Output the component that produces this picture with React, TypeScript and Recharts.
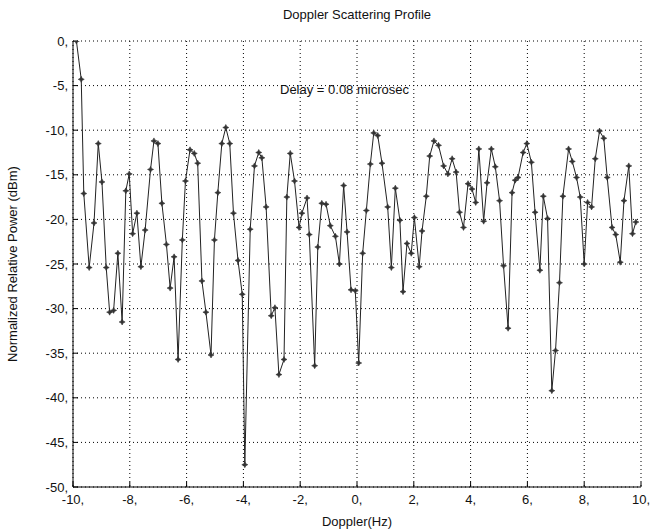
import { LineChart, Line, XAxis, YAxis, CartesianGrid } from "recharts"

// Doppler frequency (Hz) of each sample
const dopplerHz = [
  -9.88, -9.71, -9.62, -9.43, -9.26, -9.11, -8.98, -8.83, -8.71, -8.57,
  -8.42, -8.27, -8.14, -8.02, -7.9, -7.75, -7.61, -7.46, -7.27, -7.15,
  -7.01, -6.87, -6.71, -6.58, -6.44, -6.3, -6.15, -6.04, -5.88, -5.73,
  -5.61, -5.46, -5.32, -5.14, -5.02, -4.9, -4.76, -4.62, -4.48, -4.35,
  -4.19, -4.04, -3.95, -3.76, -3.61, -3.46, -3.35, -3.2, -3.02, -2.89,
  -2.75, -2.57, -2.47, -2.35, -2.2, -2.04, -1.94, -1.76, -1.68, -1.49,
  -1.38, -1.24, -1.09, -0.94, -0.76, -0.62, -0.47, -0.35, -0.21, -0.06,
  0.06, 0.2, 0.33, 0.47, 0.59, 0.73, 0.88, 1.08, 1.21, 1.35,
  1.51, 1.62, 1.76, 1.91, 2.02, 2.19, 2.29, 2.44, 2.56, 2.71,
  2.87, 3.05, 3.2, 3.35, 3.49, 3.61, 3.75, 3.91, 4.05, 4.18,
  4.29, 4.46, 4.58, 4.73, 4.87, 5.02, 5.16, 5.32, 5.46, 5.57,
  5.67, 5.85, 5.98, 6.14, 6.27, 6.44, 6.56, 6.71, 6.86, 6.99,
  7.13, 7.25, 7.45, 7.58, 7.73, 7.86, 8.0, 8.12, 8.26, 8.39,
  8.54, 8.69, 8.81, 8.98, 9.11, 9.27, 9.4, 9.57, 9.7, 9.82,
]

// normalized relative power (dBm)
const powerDbm = [
  0, -4.3, -17.1, -25.4, -20.4, -11.5, -15.8, -25.4, -30.4, -30.2,
  -23.8, -31.5, -16.8, -14.9, -21.6, -19.3, -25.3, -21.2, -14.4, -11.2,
  -11.5, -18.2, -22.8, -27.7, -24.2, -35.7, -22.3, -15.7, -12.2, -12.6,
  -13.7, -26.9, -30.4, -35.2, -22.3, -17.0, -11.5, -9.7, -11.5, -19.3,
  -24.6, -28.4, -47.5, -21.1, -14.0, -12.5, -13.1, -18.6, -30.8, -29.9,
  -37.4, -35.7, -17.5, -12.6, -15.7, -20.9, -19.3, -17.6, -21.7, -36.4,
  -23.1, -18.2, -18.3, -20.7, -21.9, -25.0, -16.2, -21.4, -27.9, -28.0,
  -36.1, -23.8, -19.0, -13.8, -10.3, -10.6, -13.7, -18.6, -25.4, -16.5,
  -20.1, -28.1, -22.7, -23.8, -19.8, -25.3, -21.3, -17.4, -12.9, -11.2,
  -11.7, -14.0, -14.9, -13.2, -14.7, -19.2, -20.9, -16.0, -16.6, -18.1,
  -12.1, -20.2, -15.9, -12.1, -14.1, -17.9, -25.2, -32.2, -17.0, -15.6,
  -15.3, -12.5, -11.5, -13.6, -19.2, -25.7, -17.4, -19.9, -39.2, -34.7,
  -27.1, -17.4, -12.1, -13.5, -15.3, -17.5, -25.0, -18.1, -18.6, -13.2,
  -10.1, -10.9, -15.3, -20.9, -21.7, -24.8, -17.9, -14.0, -21.6, -20.3,
]

const xTicks = [-10, -8, -6, -4, -2, 0, 2, 4, 6, 8, 10]
const yTicks = [0, -5, -10, -15, -20, -25, -30, -35, -40, -45, -50]

const data = dopplerHz.map((x, i) => ({ x, y: powerDbm[i] }))

const font = '"Liberation Sans", Arial, sans-serif'

const StarDot = (props: any) => {
  const { cx, cy } = props
  if (cx == null || cy == null) return null
  return (
    <path
      d={`M${cx},${cy - 3} L${cx + 1},${cy - 1} L${cx + 3},${cy} L${cx + 1},${cy + 1} L${cx},${cy + 3} L${cx - 1},${cy + 1} L${cx - 3},${cy} L${cx - 1},${cy - 1} Z`}
      fill="#333"
      stroke="#333"
      strokeWidth={0.6}
    />
  )
}

export default function App() {
  const tickStyle = { fill: "#111", fontSize: 13, fontFamily: font }
  return (
    <div style={{ position: "absolute", left: 0, top: 0, width: 663, height: 532, background: "#fff", fontFamily: font }}>
      <LineChart width={663} height={532} data={data} margin={{ top: 41, right: 22, bottom: 25, left: 13 }}>
        <CartesianGrid xAxisId="b" yAxisId="l" stroke="#000" strokeDasharray="1 3" />
        <XAxis
          xAxisId="b"
          type="number"
          dataKey="x"
          domain={[-10, 10]}
          ticks={xTicks}
          tickFormatter={(v) => v + ","}
          tick={tickStyle}
          tickSize={-5}
          tickMargin={13}
          height={20}
          stroke="#000"
          allowDataOverflow
        />
        <XAxis
          xAxisId="t"
          orientation="top"
          type="number"
          dataKey="x"
          domain={[-10, 10]}
          ticks={xTicks}
          tick={false}
          tickSize={-5}
          height={0}
          stroke="#000"
        />
        <YAxis
          yAxisId="l"
          type="number"
          domain={[-50, 0]}
          ticks={yTicks}
          tickFormatter={(v) => v + ","}
          tick={tickStyle}
          tickSize={-5}
          tickMargin={10}
          width={60}
          stroke="#000"
          allowDataOverflow
        />
        <YAxis
          yAxisId="r"
          orientation="right"
          type="number"
          domain={[-50, 0]}
          ticks={yTicks}
          tick={false}
          tickSize={-5}
          width={0}
          stroke="#000"
        />
        <Line
          xAxisId="b"
          yAxisId="l"
          type="linear"
          dataKey="y"
          stroke="#222"
          strokeWidth={1}
          dot={<StarDot />}
          activeDot={false}
          isAnimationActive={false}
        />
      </LineChart>
      <div style={{ position: "absolute", left: 73, width: 568, top: 7, textAlign: "center", fontSize: 13, color: "#111" }}>
        Doppler Scattering Profile
      </div>
      <div style={{ position: "absolute", left: 280, top: 82, fontSize: 13, color: "#111" }}>
        Delay = 0.08 microsec
      </div>
      <div style={{ position: "absolute", left: 73, width: 568, top: 514, textAlign: "center", fontSize: 13, color: "#111" }}>
        Doppler(Hz)
      </div>
      <div
        style={{
          position: "absolute",
          left: 12,
          top: 264,
          transform: "translate(-50%, -50%) rotate(-90deg)",
          whiteSpace: "nowrap",
          fontSize: 13,
          color: "#111",
        }}
      >
        Normalized Relative Power (dBm)
      </div>
    </div>
  )
}
